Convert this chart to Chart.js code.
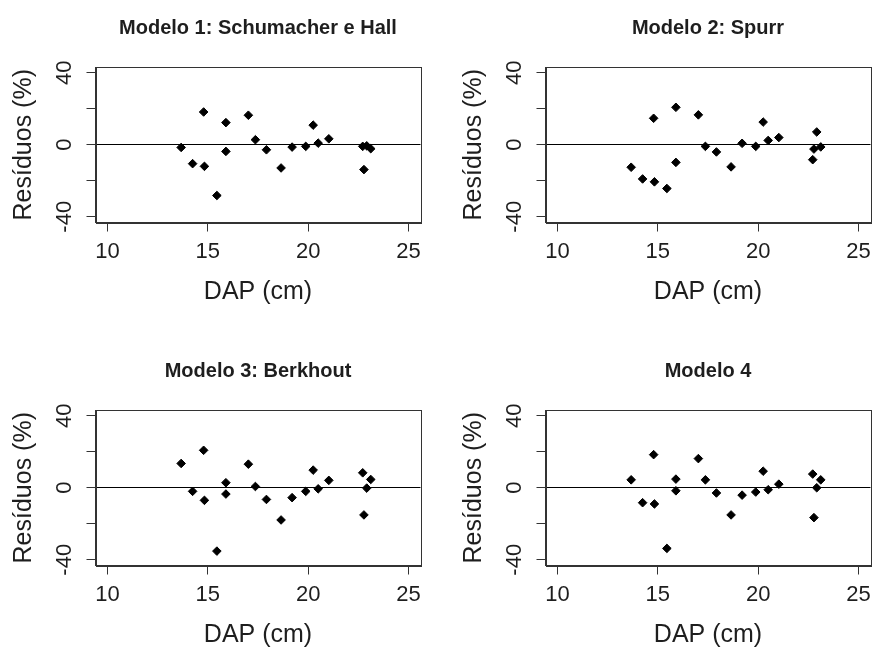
<!DOCTYPE html>
<html>
<head>
<meta charset="utf-8">
<script src="https://cdn.jsdelivr.net/npm/chart.js@4/dist/chart.umd.min.js"></script>
<style>
  body { margin: 0; width: 874px; height: 648px; overflow: hidden; background: #fff; position: relative; }
  .panel { position: absolute; width: 450px; height: 324px; }
</style>
</head>
<body>
<div class="panel" style="left:0;top:0"><canvas id="c1" width="450" height="324"></canvas></div>
<div class="panel" style="left:450px;top:0"><canvas id="c2" width="450" height="324"></canvas></div>
<div class="panel" style="left:0;top:343px"><canvas id="c3" width="450" height="324"></canvas></div>
<div class="panel" style="left:450px;top:343px"><canvas id="c4" width="450" height="324"></canvas></div>
<script>
const titles = ["Modelo 1: Schumacher e Hall", "Modelo 2: Spurr", "Modelo 3: Berkhout", "Modelo 4"];

// DAP (cm) of each tree, shared by the four models
const dap = [13.67, 14.24, 14.79, 14.83, 15.45, 15.9, 15.9, 17.02, 17.37, 17.92,
  18.65, 19.2, 19.88, 20.25, 20.5, 21.03, 22.72, 22.78, 22.92, 23.12];

// residuals (%) per model
const resid1 = [-1.5, -10.5, 18.2, -12, -28.2, 12.3, -3.7, 16.4, 2.8, -2.8,
  -12.9, -1.3, -0.9, 10.9, 0.9, 3.3, -0.9, -13.8, -0.6, -2.2];
const resid2 = [-12.5, -19, 14.7, -20.6, -24.3, 20.8, -9.8, 16.6, -0.9, -4.0,
  -12.3, 0.8, -0.9, 12.6, 2.4, 4.0, -8.3, -2.4, 7.1, -1.2];
const resid3 = [13.5, -2.0, 20.8, -7.0, -35.2, 2.8, -3.5, 13.1, 0.7, -6.5,
  -17.9, -5.5, -2.0, 9.8, -0.6, 4.1, 8.3, -15.1, -0.2, 4.6];
const resid4 = [4.4, -8.3, 18.4, -9.0, -33.7, 4.8, -1.7, 16.2, 4.4, -2.9,
  -15.1, -4.1, -2.4, 9.2, -1.1, 2.0, 7.6, -16.6, 0, 4.4];

const xTicks = [10, 15, 20, 25];
const yTicks = [-40, -20, 0, 20, 40];
const yLabels = [-40, 0, 40];

const FONT = '"Liberation Sans", Arial, Helvetica, sans-serif';
const INK = "#1e1e1e";

// box round the plot region, title centred on it, vertical y labels (R style)
const frame = {
  id: "frame",
  afterDraw(chart) {
    const { ctx, chartArea: a, scales } = chart;
    ctx.save();
    ctx.strokeStyle = "#333";
    ctx.lineWidth = 1;
    ctx.strokeRect(Math.round(a.left) + 0.5, Math.round(a.top) + 0.5,
      Math.round(a.right - a.left), Math.round(a.bottom - a.top));

    ctx.fillStyle = INK;
    ctx.textAlign = "center";
    ctx.textBaseline = "middle";
    ctx.font = "bold 20px " + FONT;
    ctx.fillText(chart.options.panelTitle, (a.left + a.right) / 2, 28.5);

    ctx.font = "22px " + FONT;
    yLabels.forEach((v) => {
      const y = scales.y.getPixelForValue(v);
      ctx.save();
      ctx.translate(a.left - 30.5, y);
      ctx.rotate(-Math.PI / 2);
      ctx.fillText(String(v), 0, 0);
      ctx.restore();
    });
    ctx.restore();
  },
};

function makeChart(id, title, resid) {
  const points = dap.map((x, i) => ({ x: x, y: resid[i] }));
  return new Chart(document.getElementById(id), {
    type: "scatter",
    data: {
      datasets: [{
        data: points,
        pointStyle: "rectRot",
        pointRadius: 4.3,
        backgroundColor: "#000",
        borderColor: "#000",
        borderWidth: 1,
      }],
    },
    options: {
      panelTitle: title,
      responsive: false,
      animation: false,
      devicePixelRatio: 1,
      events: [],
      layout: { padding: { left: 0, right: 29.5, top: 67, bottom: 0 } },
      plugins: {
        legend: { display: false },
        tooltip: { enabled: false },
        title: { display: false },
      },
      scales: {
        x: {
          type: "linear",
          min: 9.4,
          max: 25.6,
          afterBuildTicks: (s) => { s.ticks = xTicks.map((v) => ({ value: v })); },
          afterFit: (s) => { s.height = 101.5; },
          ticks: { color: INK, font: { family: FONT, size: 22 }, padding: 7, maxRotation: 0 },
          grid: { drawOnChartArea: false, tickColor: "#333", tickLength: 9 },
          border: { color: "#333" },
          title: {
            display: true,
            text: "DAP (cm)",
            color: INK,
            font: { family: FONT, size: 25, lineHeight: 1.2 },
            padding: { top: 0, bottom: 16.5 },
          },
        },
        y: {
          type: "linear",
          min: -43.2,
          max: 43.2,
          afterBuildTicks: (s) => { s.ticks = yTicks.map((v) => ({ value: v })); },
          afterFit: (s) => { s.width = 95.5; },
          ticks: { display: false },
          grid: {
            color: (c) => (c.tick && c.tick.value === 0 ? "#000" : "rgba(0,0,0,0)"),
            tickColor: "#333",
            tickLength: 9,
          },
          border: { color: "#333" },
          title: {
            display: true,
            text: "Resíduos (%)",
            color: INK,
            font: { family: FONT, size: 25, lineHeight: 1.2 },
            padding: { top: 9, bottom: 0 },
          },
        },
      },
    },
    plugins: [frame],
  });
}

makeChart("c1", titles[0], resid1);
makeChart("c2", titles[1], resid2);
makeChart("c3", titles[2], resid3);
makeChart("c4", titles[3], resid4);
</script>
</body>
</html>
